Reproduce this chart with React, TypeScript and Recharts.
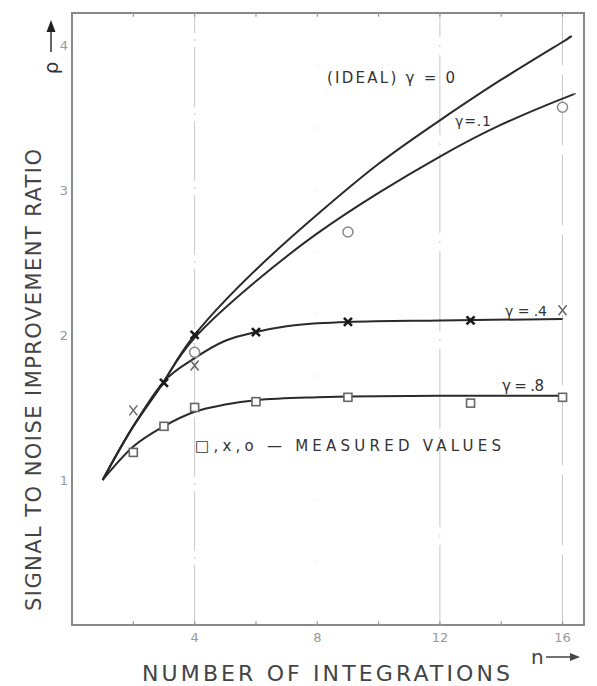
import { ComposedChart, Line, Scatter, XAxis, YAxis, ReferenceLine, ReferenceArea } from 'recharts';

// curves (n = number of integrations, r = improvement ratio)
const nIdeal = [1, 2, 3, 4, 6, 8, 10, 12, 14, 16, 16.2];
const rIdeal = [1, 1.37, 1.68, 2.0, 2.45, 2.83, 3.18, 3.48, 3.76, 4.02, 4.05];

const nG1 = [1, 2, 3, 4, 6, 8, 10, 12, 14, 16, 16.4];
const rG1 = [1, 1.37, 1.68, 1.98, 2.37, 2.7, 2.98, 3.23, 3.45, 3.63, 3.66];

const nG4 = [1, 2, 3, 4, 5, 6, 7, 8, 9, 12, 16];
const rG4 = [1, 1.37, 1.68, 1.84, 1.96, 2.02, 2.06, 2.08, 2.09, 2.1, 2.11];

const nG8 = [1, 2, 3, 4, 5, 6, 8, 9, 12, 16];
const rG8 = [1, 1.23, 1.37, 1.47, 1.52, 1.55, 1.57, 1.575, 1.58, 1.58];

// measured values
const nSquares = [2, 3, 4, 6, 9, 13, 16];
const rSquares = [1.19, 1.37, 1.5, 1.54, 1.57, 1.53, 1.57];

const nCrosses = [2, 4, 16];
const rCrosses = [1.48, 1.79, 2.17];

const nBoldCrosses = [3, 4, 6, 9, 13];
const rBoldCrosses = [1.67, 2.0, 2.02, 2.09, 2.1];

const nCircles = [4, 9, 16];
const rCircles = [1.88, 2.71, 3.57];

const xTicks = [4, 8, 12, 16];
const xMinorTicks = [2, 4, 6, 8, 10, 12, 14, 16];
const yTicks = [1, 2, 3, 4];

const X_MAX = 16.7;
const Y_MAX = 4.22;

const zip = (ns: number[], rs: number[]) => ns.map((n, i) => ({ n, r: rs[i] }));

const INK = '#2a2a2a';
const FONT = '"DejaVu Sans", "Liberation Sans", sans-serif';

const SquareMark = (p: any) => (
  <rect x={p.cx - 4} y={p.cy - 4} width={8} height={8} fill="#fff" stroke="#666" strokeWidth={1.6} />
);
const CircleMark = (p: any) => (
  <circle cx={p.cx} cy={p.cy} r={5} fill="#fff" stroke="#888" strokeWidth={1.5} />
);
const CrossMark = (p: any) => (
  <g stroke="#666" strokeWidth={1.5}>
    <line x1={p.cx - 4} y1={p.cy - 5} x2={p.cx + 4} y2={p.cy + 5} />
    <line x1={p.cx + 4} y1={p.cy - 5} x2={p.cx - 4} y2={p.cy + 5} />
  </g>
);
const BoldCrossMark = (p: any) => (
  <g stroke="#1a1a1a" strokeWidth={2.6}>
    <line x1={p.cx - 4} y1={p.cy - 4} x2={p.cx + 4} y2={p.cy + 4} />
    <line x1={p.cx + 4} y1={p.cy - 4} x2={p.cx - 4} y2={p.cy + 4} />
  </g>
);

export default function App() {
  return (
    <div style={{ position: 'absolute', left: 0, top: 0, width: 597, height: 686, background: '#fff' }}>
      <ComposedChart width={597} height={686} margin={{ top: 13, right: 13, bottom: 31, left: 32 }}>
        <XAxis
          dataKey="n"
          type="number"
          domain={[0, X_MAX]}
          ticks={xTicks}
          interval={0}
          height={30}
          axisLine={false}
          tickLine={false}
          tickSize={0}
          tickMargin={8}
          tick={{ fill: '#999', fontSize: 13, fontFamily: FONT }}
          allowDataOverflow
        />
        <YAxis
          type="number"
          domain={[0, Y_MAX]}
          ticks={yTicks}
          interval={0}
          width={40}
          axisLine={false}
          tickLine={false}
          tickSize={0}
          tickMargin={4}
          tick={{ fill: '#999', fontSize: 13, fontFamily: FONT }}
          allowDataOverflow
        />

        {/* faint grid lines */}
        <ReferenceLine x={4} stroke="#c8c8c8" strokeDasharray="60 6 2 6" />
        <ReferenceLine x={8} stroke="#e6e6e6" strokeDasharray="2 60" />
        <ReferenceLine x={12} stroke="#c8c8c8" strokeDasharray="80 8 2 8" />
        <ReferenceLine x={16} stroke="#c8c8c8" strokeDasharray="70 10" />

        {/* small inward ticks top and bottom */}
        {xMinorTicks.map((t) => (
          <ReferenceLine key={'b' + t} segment={[{ x: t, y: 0 }, { x: t, y: 0.025 }]} stroke="#999" strokeWidth={1.2} />
        ))}
        {xMinorTicks.map((t) => (
          <ReferenceLine key={'t' + t} segment={[{ x: t, y: Y_MAX - 0.025 }, { x: t, y: Y_MAX }]} stroke="#999" strokeWidth={1.2} />
        ))}

        <ReferenceArea x1={0} x2={X_MAX} y1={0} y2={Y_MAX} fill="none" stroke="#888" strokeWidth={2} />

        <Line data={zip(nIdeal, rIdeal)} dataKey="r" type="natural" stroke={INK} strokeWidth={2} dot={false} isAnimationActive={false} />
        <Line data={zip(nG1, rG1)} dataKey="r" type="natural" stroke={INK} strokeWidth={2} dot={false} isAnimationActive={false} />
        <Line data={zip(nG4, rG4)} dataKey="r" type="monotone" stroke={INK} strokeWidth={2} dot={false} isAnimationActive={false} />
        <Line data={zip(nG8, rG8)} dataKey="r" type="monotone" stroke={INK} strokeWidth={2} dot={false} isAnimationActive={false} />

        <Scatter data={zip(nSquares, rSquares)} dataKey="r" shape={SquareMark} isAnimationActive={false} />
        <Scatter data={zip(nCircles, rCircles)} dataKey="r" shape={CircleMark} isAnimationActive={false} />
        <Scatter data={zip(nCrosses, rCrosses)} dataKey="r" shape={CrossMark} isAnimationActive={false} />
        <Scatter data={zip(nBoldCrosses, rBoldCrosses)} dataKey="r" shape={BoldCrossMark} isAnimationActive={false} />
      </ComposedChart>

      <svg width={597} height={686} style={{ position: 'absolute', left: 0, top: 0, pointerEvents: 'none' }}>
        <g fill="#333" fontFamily={FONT}>
          <text x={327} y={83} fontSize={15} textLength={128} lengthAdjust="spacing">(IDEAL) γ = 0</text>
          <text x={455} y={126} fontSize={14} textLength={36} lengthAdjust="spacing">γ=.1</text>
          <text x={505} y={316} fontSize={14} textLength={42} lengthAdjust="spacing">γ = .4</text>
          <text x={502} y={391} fontSize={15} textLength={42} lengthAdjust="spacing">γ = .8</text>
          <text x={195} y={451} fontSize={15} textLength={306} lengthAdjust="spacing">□,x,o — MEASURED VALUES</text>

          <text x={142} y={681} fontSize={22} fill="#444" textLength={368} lengthAdjust="spacing">NUMBER OF INTEGRATIONS</text>
          <text x={531} y={664} fontSize={20} fill="#444">n</text>
          <line x1={546} y1={657} x2={572} y2={657} stroke="#444" strokeWidth={1.5} />
          <path d="M 580 657 L 570 653 L 570 661 Z" fill="#444" />

          <text
            transform="translate(41 380) rotate(-90)"
            textAnchor="middle"
            fontSize={21}
            fill="#444"
            textLength={462}
            lengthAdjust="spacing"
          >
            SIGNAL TO NOISE IMPROVEMENT RATIO
          </text>

          <text transform="translate(58 68) rotate(-90)" textAnchor="middle" fontSize={20} fill="#333">ρ</text>
          <line x1={51} y1={52} x2={51} y2={30} stroke="#333" strokeWidth={1.5} />
          <path d="M 51 20 L 46.5 32 L 55.5 32 Z" fill="#222" />
        </g>
      </svg>
    </div>
  );
}
